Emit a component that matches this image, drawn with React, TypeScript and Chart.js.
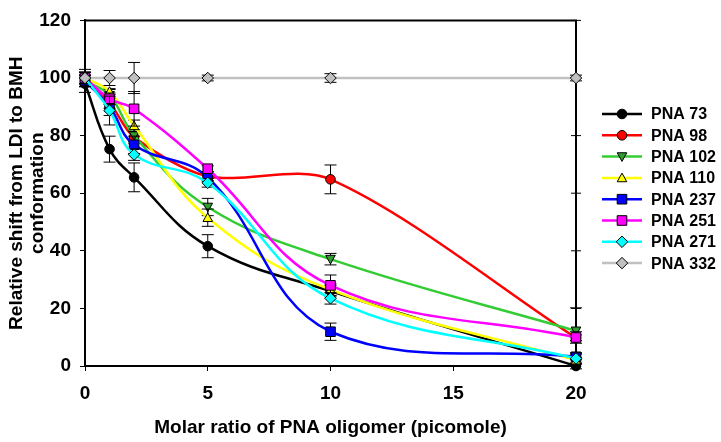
import React, { useEffect, useRef } from "react";
import { Chart, registerables } from "chart.js";

Chart.register(...registerables);

// ---- data ----
const xValues = [0, 1, 2, 5, 10, 20];
const xTicks = [0, 5, 10, 15, 20];
const yTicks = [0, 20, 40, 60, 80, 100, 120];

const seriesNames = ["PNA 73", "PNA 98", "PNA 102", "PNA 110", "PNA 237", "PNA 251", "PNA 271", "PNA 332"];

const pna73 = [98, 75.3, 65.5, 41.6, 26, 0];
const pna98 = [100, 91.5, 79.4, 65.9, 64.8, 9.8];
const pna102 = [99, 94, 80, 55.2, 37.1, 12.2];
const pna110 = [100, 95.3, 83.4, 51.5, 26.5, 2];
const pna237 = [99, 90, 76.8, 65.5, 11.9, 3.2];
const pna251 = [100, 92.8, 89.3, 68.5, 28, 9.9];
const pna271 = [100, 88.7, 73.4, 63.6, 23.5, 2.6];
const pna332 = [100, 100, 100, 100, 100, 100];

const pna73Err = [3, 4.5, 5, 4, 2, 1];
const pna98Err = [2, 2, 2, 1.5, 5, 1];
const pna102Err = [2, 2, 2, 3, 2, 8];
const pna110Err = [2, 1, 2, 3, 2, 1];
const pna237Err = [2, 3, 3, 1.5, 3, 1];
const pna251Err = [2, 2, 6, 1, 3.6, 2];
const pna271Err = [2, 5, 2, 1.5, 2, 2];
const pna332Err = [3, 2.6, 5.4, 1, 1.5, 1];

const seriesValues = [pna73, pna98, pna102, pna110, pna237, pna251, pna271, pna332];
const seriesErrors = [pna73Err, pna98Err, pna102Err, pna110Err, pna237Err, pna251Err, pna271Err, pna332Err];

const lineColors = ["#000000", "#FF0000", "#33CC33", "#FFFF00", "#0000FF", "#FF00FF", "#00FFFF", "#C0C0C0"];
const markerFills = ["#000000", "#FF0000", "#339933", "#FFFF00", "#0000FF", "#FF00FF", "#00FFFF", "#C0C0C0"];
const markerStyles = ["circle", "circle", "triangleDown", "triangle", "rect", "rect", "rectRot", "rectRot"];
const tensions = [0.4, 0.3, 0.4, 0.4, 0.4, 0.4, 0.4, 0];

const FONT = "'Liberation Sans', Arial, sans-serif";

function drawMarker(ctx: CanvasRenderingContext2D, style: string, x: number, y: number, r: number, fill: string) {
  ctx.save();
  ctx.fillStyle = fill;
  ctx.strokeStyle = "#000000";
  ctx.lineWidth = 1;
  ctx.beginPath();
  if (style === "circle") {
    ctx.arc(x, y, r, 0, Math.PI * 2);
  } else if (style === "triangle") {
    ctx.moveTo(x, y - r);
    ctx.lineTo(x + r, y + r * 0.8);
    ctx.lineTo(x - r, y + r * 0.8);
    ctx.closePath();
  } else if (style === "triangleDown") {
    ctx.moveTo(x, y + r);
    ctx.lineTo(x + r, y - r * 0.8);
    ctx.lineTo(x - r, y - r * 0.8);
    ctx.closePath();
  } else if (style === "rect") {
    ctx.rect(x - r, y - r, 2 * r, 2 * r);
  } else if (style === "rectRot") {
    ctx.moveTo(x, y - r * 1.2);
    ctx.lineTo(x + r * 1.2, y);
    ctx.lineTo(x, y + r * 1.2);
    ctx.lineTo(x - r * 1.2, y);
    ctx.closePath();
  }
  ctx.fill();
  ctx.stroke();
  ctx.restore();
}

const markerPlugin = {
  id: "customMarkers",
  afterDatasetDraw(chart: any, args: any) {
    const i = args.index;
    const meta = chart.getDatasetMeta(i);
    const ctx = chart.ctx;
    meta.data.forEach((pt: any) => {
      drawMarker(ctx, markerStyles[i], pt.x, pt.y, 4.8, markerFills[i]);
    });
  },
};

const errorBarPlugin = {
  id: "errorBars",
  beforeDatasetDraw(chart: any, args: any) {
    const i = args.index;
    const ctx = chart.ctx;
    const xs = chart.scales.x;
    const ys = chart.scales.y;
    const vals = seriesValues[i];
    const errs = seriesErrors[i];
    ctx.save();
    ctx.strokeStyle = "#000000";
    ctx.lineWidth = 1;
    for (let k = 0; k < xValues.length; k++) {
      const px = xs.getPixelForValue(xValues[k]);
      const top = ys.getPixelForValue(vals[k] + errs[k]);
      const bot = ys.getPixelForValue(vals[k] - errs[k]);
      ctx.beginPath();
      ctx.moveTo(px, top);
      ctx.lineTo(px, bot);
      ctx.moveTo(px - 6, top);
      ctx.lineTo(px + 6, top);
      ctx.moveTo(px - 6, bot);
      ctx.lineTo(px + 6, bot);
      ctx.stroke();
    }
    ctx.restore();
  },
};

const framePlugin = {
  id: "frame",
  beforeDatasetsDraw(chart: any) {
    const { ctx, chartArea } = chart;
    const ys = chart.scales.y;
    ctx.save();
    ctx.strokeStyle = "#000000";
    ctx.lineWidth = 2;
    ctx.beginPath();
    ctx.moveTo(chartArea.left, chartArea.top);
    ctx.lineTo(chartArea.right, chartArea.top);
    ctx.lineTo(chartArea.right, chartArea.bottom);
    ctx.stroke();
    ctx.lineWidth = 1;
    yTicks.forEach((v) => {
      const py = ys.getPixelForValue(v);
      ctx.beginPath();
      ctx.moveTo(chartArea.right - 5, py);
      ctx.lineTo(chartArea.right + 5, py);
      ctx.stroke();
    });
    ctx.restore();
  },
};

const legendPlugin = {
  id: "customLegend",
  afterDraw(chart: any) {
    const ctx = chart.ctx;
    const x0 = 602;
    const x1 = 642;
    const y0 = 114;
    const dy = 21.3;
    ctx.save();
    seriesNames.forEach((name, i) => {
      const y = y0 + i * dy;
      ctx.strokeStyle = lineColors[i];
      ctx.lineWidth = 2.5;
      ctx.beginPath();
      ctx.moveTo(x0, y);
      ctx.lineTo(x1, y);
      ctx.stroke();
      drawMarker(ctx, markerStyles[i], (x0 + x1) / 2, y, 4.8, markerFills[i]);
      ctx.fillStyle = "#000000";
      ctx.font = `bold 16px ${FONT}`;
      ctx.textAlign = "left";
      ctx.textBaseline = "middle";
      ctx.fillText(name, 651, y + 1);
    });
    ctx.restore();
  },
};

export default function App() {
  const canvasRef = useRef<HTMLCanvasElement | null>(null);

  useEffect(() => {
    if (!canvasRef.current) return;
    const datasets = seriesNames.map((name, i) => ({
      label: name,
      data: xValues.map((x, k) => ({ x, y: seriesValues[i][k] })),
      borderColor: lineColors[i],
      backgroundColor: lineColors[i],
      borderWidth: 2.5,
      pointRadius: 0,
      pointHoverRadius: 0,
      tension: tensions[i],
      fill: false,
      clip: 20,
      order: seriesNames.length - 1 - i,
    }));

    const chart = new Chart(canvasRef.current, {
      type: "line",
      data: { datasets },
      plugins: [framePlugin, errorBarPlugin, markerPlugin, legendPlugin],
      options: {
        animation: false,
        responsive: false,
        devicePixelRatio: 1,
        layout: { padding: { left: 0, right: 145, top: 12, bottom: 0 } },
        plugins: {
          legend: { display: false },
          tooltip: { enabled: false },
        },
        scales: {
          x: {
            type: "linear",
            min: 0,
            max: 20,
            afterBuildTicks: (scale: any) => {
              scale.ticks = xTicks.map((v) => ({ value: v }));
            },
            afterFit: (scale: any) => {
              scale.height = 76;
            },
            ticks: {
              color: "#000000",
              font: { family: FONT, size: 19, weight: "bold" },
              padding: 11,
              maxRotation: 0,
            },
            grid: {
              display: true,
              drawOnChartArea: false,
              drawTicks: true,
              tickLength: 5,
              color: "#000000",
              lineWidth: 1,
            },
            border: { display: true, color: "#000000", width: 2 },
            title: {
              display: true,
              text: "Molar ratio of PNA oligomer (picomole)",
              color: "#000000",
              font: { family: FONT, size: 19, weight: "bold", lineHeight: 1.1 },
              padding: { top: 0, bottom: 4 },
            },
          },
          y: {
            type: "linear",
            min: 0,
            max: 120,
            afterBuildTicks: (scale: any) => {
              scale.ticks = yTicks.map((v) => ({ value: v }));
            },
            afterFit: (scale: any) => {
              scale.width = 85;
            },
            ticks: {
              color: "#000000",
              font: { family: FONT, size: 19, weight: "bold" },
              padding: 9,
            },
            grid: {
              display: true,
              drawOnChartArea: false,
              drawTicks: true,
              tickLength: 5,
              color: "#000000",
              lineWidth: 1,
            },
            border: { display: true, color: "#000000", width: 2 },
            title: {
              display: true,
              text: ["Relative shift from LDI to BMH", "conformation"],
              color: "#000000",
              font: { family: FONT, size: 19, weight: "bold", lineHeight: 1.1 },
              padding: { top: 6, bottom: 0 },
            },
          },
        },
      },
    } as any);
    return () => chart.destroy();
  }, []);

  return (
    <div style={{ position: "absolute", left: 0, top: 0, width: 721, height: 442, background: "#ffffff" }}>
      <canvas ref={canvasRef} width={721} height={442} style={{ width: 721, height: 442, display: "block" }} />
    </div>
  );
}
